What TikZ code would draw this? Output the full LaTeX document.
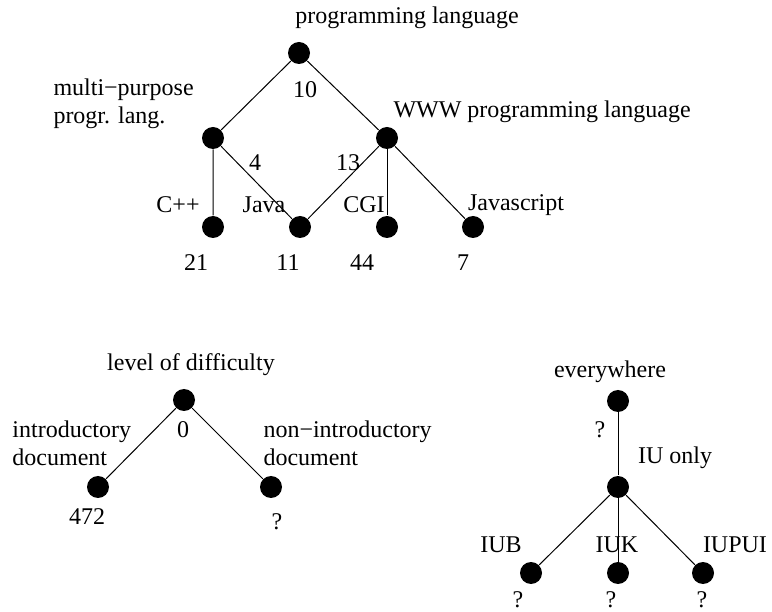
\documentclass[tikz,border=0pt]{standalone}
\usepackage{fontspec}
\setmainfont{Liberation Serif}
\usetikzlibrary{positioning}

\begin{document}
\begin{tikzpicture}[x=1pt,y=-1pt,line width=1pt,
    every node/.style={inner sep=0pt,font=\fontsize{24}{28}\selectfont},
    dot/.style={circle,fill=black,minimum size=22pt}]
    \useasboundingbox (0,0) rectangle (772,612);
    % programming languages
    \node[dot] (pl) at (299,53) {};
    \node[dot] (mp) at (213,138) {};
    \node[dot] (www) at (387,138) {};
    \node[dot] (cpp) at (213,227) {};
    \node[dot] (java) at (300,227) {};
    \node[dot] (cgi) at (387,227) {};
    \node[dot] (js) at (473,227) {};
    \draw (pl) -- (mp) -- (cpp);
    \draw (mp) -- (java) -- (www) -- (pl);
    \draw (www) -- (cgi);
    \draw (www) -- (js);
    \node (plT) at (407,18) {programming language};
    \node (plN) at (305,90) {10};
    \node[anchor=west,align=left] (mpT) at (53,104) {multi−purpose\\progr. lang.};
    \node[anchor=west] (wwwT) at (393,112) {WWW programming language};
    \node (mpN) at (255,163) {4};
    \node (wwwN) at (348,163) {13};
    \node (cppT) at (178,205) {C++};
    \node (javaT) at (264,205) {Java};
    \node (cgiT) at (364,205) {CGI};
    \node (jsT) at (516,205) {Javascript};
    \node (cppN) at (196,263) {21};
    \node (javaN) at (288,263) {11};
    \node (cgiN) at (362,263) {44};
    \node (jsN) at (463,263) {7};
    % difficulty
    \node[dot] (lod) at (184,400) {};
    \node[dot] (intro) at (98,487) {};
    \node[dot] (nonintro) at (271,487) {};
    \draw (intro) -- (lod) -- (nonintro);
    \node (lodT) at (191,365) {level of difficulty};
    \node (lodN) at (183,430) {0};
    \node[anchor=west,align=left] (introT) at (12,443) {introductory\\document};
    \node[anchor=west,align=left] (nonintroT) at (263,443) {non−introductory\\document};
    \node (introN) at (87,517) {472};
    \node (nonintroN) at (277,522) {?};
    % location
    \node[dot] (ev) at (618,401) {};
    \node[dot] (iu) at (618,487) {};
    \node[dot] (iub) at (531,573) {};
    \node[dot] (iuk) at (618,573) {};
    \node[dot] (iupui) at (703,573) {};
    \draw (ev) -- (iu) -- (iuk);
    \draw (iub) -- (iu) -- (iupui);
    \node (evT) at (610,372) {everywhere};
    \node (evN) at (600,430) {?};
    \node (iuT) at (675,458) {IU only};
    \node (iubT) at (501,545) {IUB};
    \node (iukT) at (617,545) {IUK};
    \node (iupuiT) at (735,545) {IUPUI};
    \node (iubN) at (518,600) {?};
    \node (iukN) at (611,600) {?};
    \node (iupuiN) at (702,600) {?};
\end{tikzpicture}
\end{document}
